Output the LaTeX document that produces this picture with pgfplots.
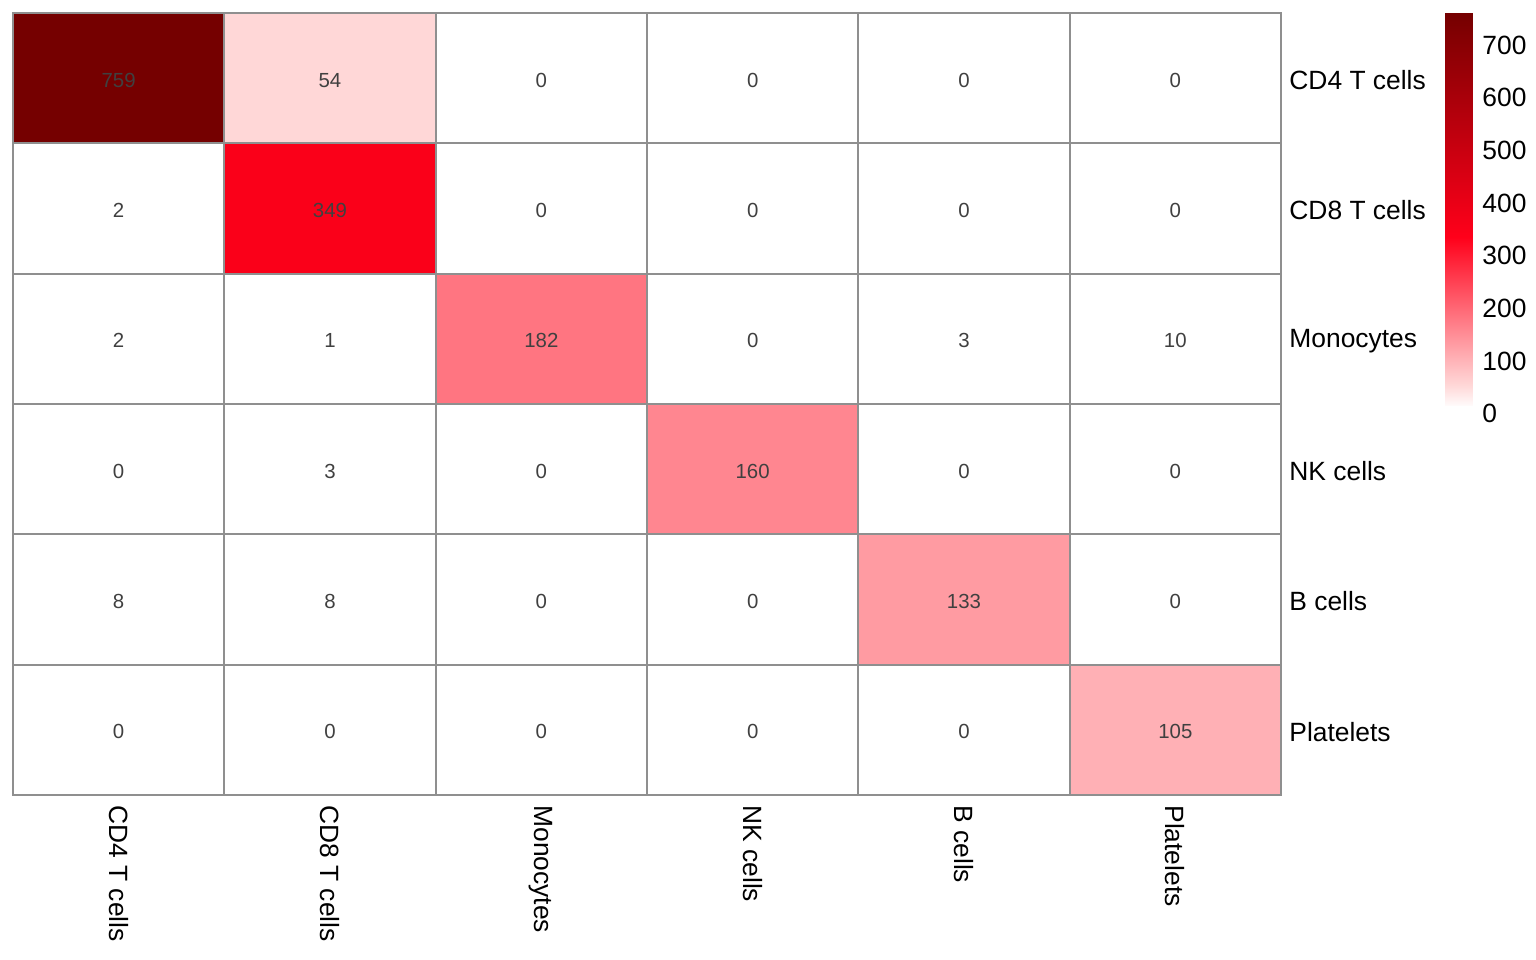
\documentclass[border=0pt]{standalone}
\usepackage{fontspec}
\setmainfont{Liberation Sans}
\usepackage{pgfplots}
\usepackage{pgfplotstable}
\pgfplotsset{compat=1.18}
\definecolor{gridgray}{RGB}{143,143,143}
\definecolor{celltext}{RGB}{64,64,64}
\pgfplotstableread{
x y c
0 0 759
1 0 54
2 0 0
3 0 0
4 0 0
5 0 0
0 1 2
1 1 349
2 1 0
3 1 0
4 1 0
5 1 0
0 2 2
1 2 1
2 2 182
3 2 0
4 2 3
5 2 10
0 3 0
1 3 3
2 3 0
3 3 160
4 3 0
5 3 0
0 4 8
1 4 8
2 4 0
3 4 0
4 4 133
5 4 0
0 5 0
1 5 0
2 5 0
3 5 0
4 5 0
5 5 105
}\cm
\pgfplotstableread{
x y
0 16.5
1 16.5
0 54
1 54
0 335
1 335
0 761
1 761
}\cbar
\pgfplotsset{
  hmmap/.style={colormap={hm}{rgb255(0pt)=(255,255,255) rgb255(11pt)=(255,255,255) rgb255(54pt)=(255,215,215) rgb255(335pt)=(255,0,26) rgb255(759pt)=(117,0,0)},
  point meta min=0, point meta max=759},
}
\begin{document}
\begin{tikzpicture}
\path[use as bounding box] (0,0) rectangle (768bp,480bp);
\begin{axis}[
  at={(6.5bp,82.5bp)}, anchor=south west,
  scale only axis, width=634bp, height=391bp,
  xmin=-0.5, xmax=5.5, ymin=-0.5, ymax=5.5, y dir=reverse,
  hmmap,
  xtick={0,...,5}, ytick={0,...,5},
  xticklabels={CD4 T cells, CD8 T cells, Monocytes, NK cells, B cells, Platelets},
  yticklabels={CD4 T cells, CD8 T cells, Monocytes, NK cells, B cells, Platelets},
  yticklabel pos=right,
  major tick length=0pt, minor tick length=0pt,
  minor xtick={-0.5,0.5,...,5.5}, minor ytick={-0.5,0.5,...,5.5},
  xminorgrids, yminorgrids,
  minor grid style={draw=gridgray, line width=1bp},
  axis line style={draw=gridgray, line width=1bp},
  axis on top,
  tick label style={font=\fontsize{13.2bp}{16bp}\selectfont},
  xticklabel style={rotate=-90, anchor=west, inner xsep=5bp, inner ysep=0pt},
  yticklabel style={anchor=west, inner xsep=4bp, inner ysep=0pt, yshift=-1bp},
]
\addplot[matrix plot*, mesh/cols=6, point meta=explicit] table[x=x, y=y, meta=c] {\cm};
\addplot[draw=none, mark=none, point meta=explicit symbolic, nodes near coords,
  every node near coord/.append style={font=\fontsize{10.2bp}{12bp}\selectfont, text=celltext, anchor=center, yshift=-1bp}]
  table[x=x, y=y, meta=c] {\cm};
\end{axis}
\begin{axis}[
  at={(722.5bp,273.15bp)}, anchor=south west,
  scale only axis, width=13.5bp, height=200.35bp,
  xmin=0, xmax=1, ymin=0, ymax=761,
  hmmap,
  hide x axis, axis y line*=right, y axis line style={draw=none},
  ytick={0,100,...,700}, major tick length=0pt,
  /pgf/number format/assume math mode=true,
  yticklabel style={anchor=west, inner xsep=5bp, inner ysep=0pt, font=\fontsize{13.2bp}{16bp}\selectfont},
  clip=false,
]
\addplot[surf, shader=interp, mesh/cols=2, point meta=y] table[x=x, y=y] {\cbar};
\end{axis}
\end{tikzpicture}
\end{document}
